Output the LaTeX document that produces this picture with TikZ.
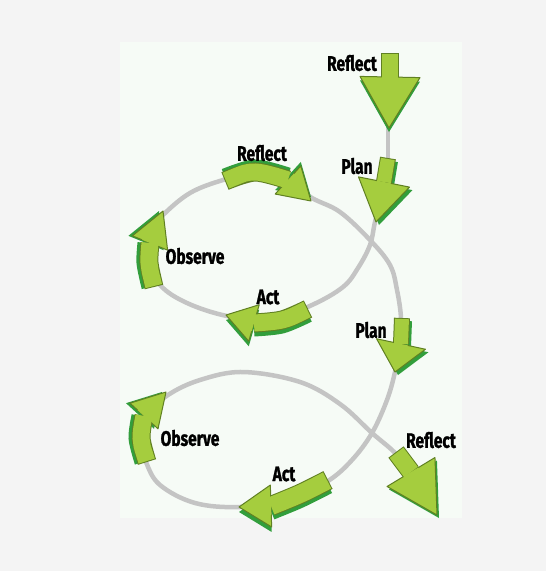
\documentclass[tikz,border=0pt]{standalone}
\usepackage{fontspec}
\newfontfamily\labelfont{Fira Sans}[FakeStretch=0.74, FakeBold=1.2]
\usepackage{xcolor}
\usepackage{tikz}
\usetikzlibrary{calc}
\definecolor{leafgreen}{RGB}{165,205,62}
\definecolor{leafedge}{RGB}{96,128,34}
\definecolor{leafshade}{RGB}{50,158,60}
\definecolor{spinegray}{RGB}{196,196,196}
\definecolor{pagegray}{RGB}{244,244,244}
\definecolor{panelmint}{RGB}{246,251,246}
\tikzset{
  spine/.style={draw=spinegray, line width=4.5pt, line cap=round},
  stage/.style={font=\labelfont\bfseries\fontsize{21pt}{23pt}\selectfont, inner sep=0pt},
  every node/.style={font=\small}
}
\newcommand{\cyclearrow}[6]{%
  \begin{scope}[shift={#1}]
    \draw[leafshade, line width=#2pt] plot[smooth] coordinates {#4};
    \fill[leafshade] ($#5!#3pt!90:#6$) -- #6 -- ($#5!#3pt!-90:#6$) -- cycle;
  \end{scope}
  \draw[leafedge, line width=#2pt+2pt] plot[smooth] coordinates {#4};
  \filldraw[fill=leafgreen, draw=leafedge, line width=1pt, line join=round] ($#5!#3pt!90:#6$) -- #6 -- ($#5!#3pt!-90:#6$) -- cycle;
  \draw[leafgreen, line width=#2pt, shorten <=1pt] plot[smooth] coordinates {#4};
  \draw[leafgreen, line width=#2pt] #5 -- ($#5!3pt!#6$);
}
\begin{document}
\begin{tikzpicture}[x=1pt, y=-1pt]
    \fill[pagegray] (0,0) rectangle (546,571);
    \fill[panelmint] (120,42) rectangle (462,518);
    \useasboundingbox (0,0) rectangle (546,571);
    \draw[spine] (388,115) -- (388,165);
    \draw[spine] plot[smooth, tension=0.6] coordinates {(387,160) (383,190) (375,222) (370,245) (358,268) (343,287) (312,305) (270,320) (227,316) (187,303) (160,285) (145,257) (150,232) (163,215) (190,193) (223,180) (258,172) (290,182) (312,198) (340,212) (370,240) (390,265) (397,290) (401,318) (400,345) (395,372) (387,400) (372,433) (352,460) (328,481) (290,500) (240,507) (195,503) (160,485) (146,462) (140,438) (147,415) (168,395) (200,380) (243,372) (300,382) (340,404) (372,433) (397,455) (420,485)};
    \cyclearrow{(0,4)}{16}{30}{(390,53) (390,77)}{(390,77)}{(389,128)}
    \cyclearrow{(3,3)}{14}{26}{(388,158) (384,182)}{(384,182)}{(376,222)}
    \cyclearrow{(0,5)}{17}{19}{(308,309) (282,320) (254,323)}{(254,323)}{(226,315)}
    \cyclearrow{(-4,0)}{17}{19}{(154,287) (149,263) (150,243)}{(150,243)}{(163,211)}
    \cyclearrow{(0,-4)}{17}{19}{(225,181) (255,172) (288,180)}{(288,180)}{(311,201)}
    \cyclearrow{(3,3)}{14}{25}{(402,318) (401,344)}{(401,344)}{(395,372)}
    \cyclearrow{(0,5)}{18}{21}{(328,480) (300,494) (271,506)}{(271,506)}{(239,507)}
    \cyclearrow{(-4,0)}{17}{19}{(147,462) (141,438) (144,416)}{(144,416)}{(166,392)}
    \cyclearrow{(2,3)}{17}{28}{(396,452) (411,472)}{(411,472)}{(437,515)}
    \node[stage] (reflectTop) at (352,63) {Reflect};
    \node[stage] (planTop) at (357,166) {Plan};
    \node[stage] (reflectUp) at (262,153) {Reflect};
    \node[stage] (observeUp) at (195,256) {Observe};
    \node[stage] (actUp) at (268,297) {Act};
    \node[stage] (planMid) at (371,330) {Plan};
    \node[stage] (reflectLow) at (431,440) {Reflect};
    \node[stage] (observeLow) at (190,438) {Observe};
    \node[stage] (actLow) at (284,474) {Act};
\end{tikzpicture}
\end{document}
